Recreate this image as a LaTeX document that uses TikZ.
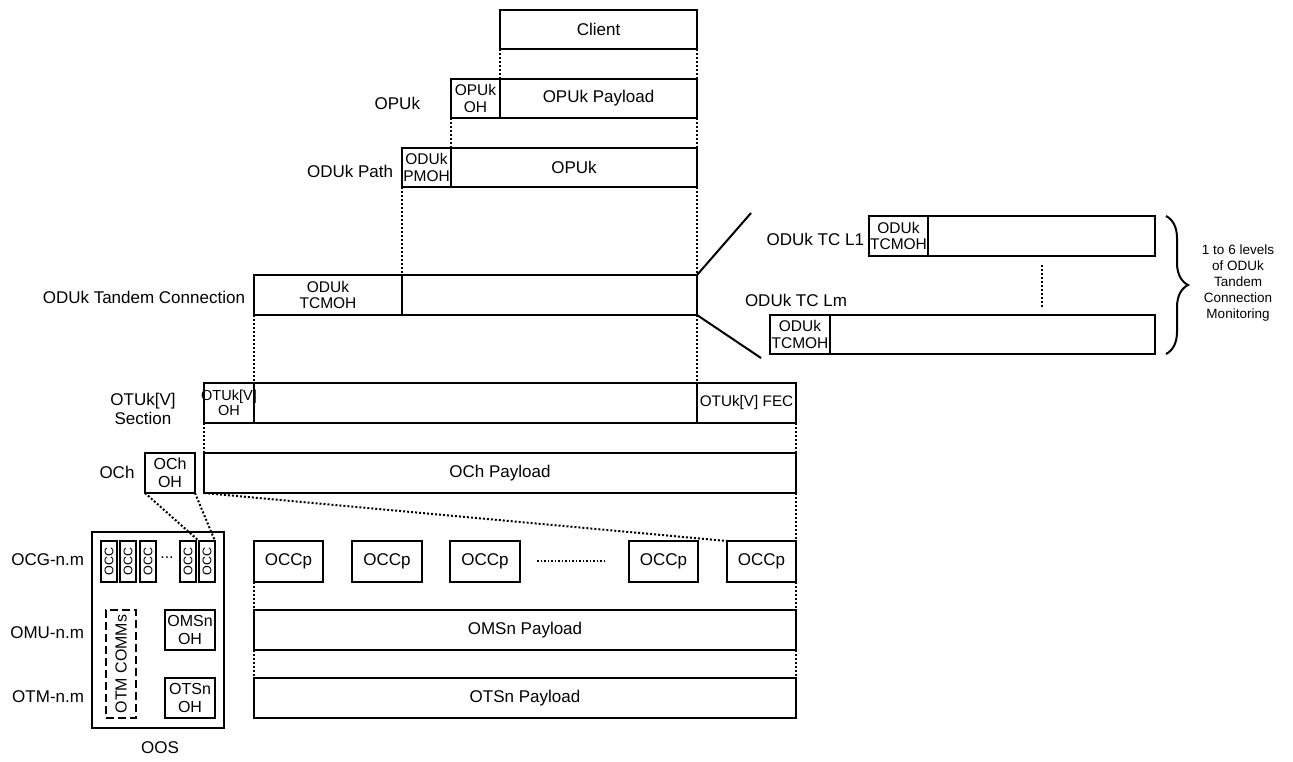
\documentclass[tikz,border=0pt]{standalone}
\usepackage{fontspec}
\setmainfont{Liberation Sans}
\usetikzlibrary{decorations.pathreplacing}
\begin{document}
\begin{tikzpicture}[x=1pt,y=-1pt,
  box/.style={draw, line width=2pt, inner sep=0pt, outer sep=0pt, anchor=north west, align=center},
  fL/.style={font=\fontsize{17}{19}\selectfont},
  fS/.style={font=\fontsize{15.5}{16.5}\selectfont},
  fM/.style={font=\fontsize{16}{18}\selectfont},
  fT/.style={font=\fontsize{12.5}{13}\selectfont},
  lbl/.style={inner sep=0pt, outer sep=0pt, align=center},
  dotl/.style={line width=2pt, dash pattern=on 2pt off 2pt},
  solidl/.style={line width=2pt}]
\fill[white] (0,0) rectangle (1293,761);
\useasboundingbox (0,0) rectangle (1293,761);

% --- top rows
\node[box,fL,minimum width=197pt,minimum height=39pt] (client) at (500,10) {Client};
\node[box,fS,minimum width=49pt,minimum height=39pt] (opuoh) at (451,79) {OPUk\\OH};
\node[box,fL,minimum width=197pt,minimum height=39pt] (opupl) at (500,79) {OPUk Payload};
\node[box,fS,minimum width=49pt,minimum height=39pt] (pmoh) at (402,148) {ODUk\\PMOH};
\node[box,fL,minimum width=246pt,minimum height=39pt] (oduopu) at (451,148) {OPUk};
\node[lbl,fL,anchor=east] (lopu) at (420,103) {OPUk};
\node[lbl,fL,anchor=east] (lpath) at (393,171) {ODUk Path};

% --- tandem connection
\node[box,fS,minimum width=148pt,minimum height=40pt] (tcmoh) at (254,275) {ODUk\\TCMOH};
\node[box,minimum width=295pt,minimum height=40pt] (tcpl) at (402,275) {};
\node[lbl,fL,anchor=east] (ltc) at (245,297) {ODUk Tandem Connection};

\node[box,fS,minimum width=59pt,minimum height=40pt] (tc1oh) at (869,216) {ODUk\\TCMOH};
\node[box,minimum width=227pt,minimum height=40pt] (tc1pl) at (928,216) {};
\node[box,fS,minimum width=60pt,minimum height=39pt] (tcmoh2) at (770,315) {ODUk\\TCMOH};
\node[box,minimum width=325pt,minimum height=39pt] (tcmpl) at (830,315) {};
\node[lbl,fL,anchor=east] (ltc1) at (864,239) {ODUk TC L1};
\node[lbl,fL,anchor=west] (ltcm) at (745,300) {ODUk TC Lm};
\coordinate (d1) at (751,213);
\coordinate (d2) at (761,358);
\coordinate (v1) at (1042,265);
\coordinate (v2) at (1042,307);
\coordinate (b1) at (1166,216);
\coordinate (b2) at (1166,354);
\draw[line width=2pt,decorate,decoration={brace,amplitude=22pt}] (b1) -- (b2);
\node[lbl,font=\fontsize{13.5}{16}\selectfont] (lbrace) at (1238,283) {1 to 6 levels\\of ODUk\\Tandem\\Connection\\Monitoring};

% --- OTUk
\node[box,minimum width=50pt,minimum height=40pt] (otuoh) at (204,383) {};
\node[lbl,font=\fontsize{14.5}{14.5}\selectfont] (otuohtxt) at (otuoh.center) {OTUk[V]\\OH};
\node[box,minimum width=443pt,minimum height=40pt] (otupl) at (254,383) {};
\node[box,font=\fontsize{15.3}{17}\selectfont,minimum width=99pt,minimum height=40pt] (otufec) at (697,383) {OTUk[V] FEC};
\node[lbl,fL] (lotu) at (143,409) {OTUk[V]\\Section};

% --- OCh
\node[box,fM,minimum width=50pt,minimum height=40pt] (ochoh) at (145,453) {OCh\\OH};
\node[box,fL,minimum width=592pt,minimum height=40pt] (ochpl) at (204,453) {OCh Payload};
\node[lbl,fL] (loch) at (117,472) {OCh};

% --- OOS
\node[box,minimum width=132pt,minimum height=196pt] (oos) at (92,532) {};
\node[lbl,fL] (loos) at (160,748) {OOS};
\node[box,fT,minimum width=16pt,minimum height=41pt] (occ1) at (101,541) {\rotatebox{90}{OCC}};
\node[box,fT,minimum width=16pt,minimum height=41pt] (occ2) at (120,541) {\rotatebox{90}{OCC}};
\node[box,fT,minimum width=16pt,minimum height=41pt] (occ3) at (140,541) {\rotatebox{90}{OCC}};
\node[box,fT,minimum width=16pt,minimum height=41pt] (occ4) at (180,541) {\rotatebox{90}{OCC}};
\node[box,fT,minimum width=16pt,minimum height=41pt] (occ5) at (199,541) {\rotatebox{90}{OCC}};
\node[lbl,fM] (occdots) at (167,558) {...};
\node[box,fM,dash pattern=on 8pt off 4pt,minimum width=30pt,minimum height=108pt] (comms) at (106,610) {\rotatebox{90}{OTM COMMs}};
\node[box,fM,minimum width=50pt,minimum height=40pt] (omsoh) at (165,610) {OMSn\\OH};
\node[box,fM,minimum width=50pt,minimum height=40pt] (otsoh) at (165,678) {OTSn\\OH};
\node[lbl,fL,anchor=east] (locg) at (84,560) {OCG-n.m};
\node[lbl,fL,anchor=east] (lomu) at (84,633) {OMU-n.m};
\node[lbl,fL,anchor=east] (lotm) at (84,697) {OTM-n.m};

% --- OCCp row and payloads
\node[box,fL,minimum width=69pt,minimum height=41pt] (occp1) at (254,541) {OCCp};
\node[box,fL,minimum width=70pt,minimum height=41pt] (occp2) at (352,541) {OCCp};
\node[box,fL,minimum width=70pt,minimum height=41pt] (occp3) at (450,541) {OCCp};
\node[box,fL,minimum width=69pt,minimum height=41pt] (occp4) at (629,541) {OCCp};
\node[box,fL,minimum width=69pt,minimum height=41pt] (occp5) at (727,541) {OCCp};
\coordinate (dd1) at (537,561);
\coordinate (dd2) at (606,561);
\draw[line width=1.5pt,dash pattern=on 1.5pt off 2pt] (dd1) -- (dd2);
\node[box,fL,minimum width=542pt,minimum height=40pt] (omspl) at (254,610) {OMSn Payload};
\node[box,fL,minimum width=542pt,minimum height=40pt] (otspl) at (254,678) {OTSn Payload};

% --- connectors
\draw[dotl] (client.south west) -- (opupl.north west);
\draw[dotl] (client.south east) -- (opupl.north east);
\draw[dotl] (opuoh.south west) -- (oduopu.north west);
\draw[dotl] (opupl.south east) -- (oduopu.north east);
\draw[dotl] (pmoh.south west) -- (tcpl.north west);
\draw[dotl] (oduopu.south east) -- (tcpl.north east);
\draw[dotl] (tcmoh.south west) -- (otupl.north west);
\draw[dotl] (tcpl.south east) -- (otufec.north west);
\draw[dotl] (otuoh.south west) -- (ochpl.north west);
\draw[dotl] (otufec.south east) -- (ochpl.north east);
\draw[dotl] (ochoh.south west) -- (occ5.north west);
\draw[dotl] (ochoh.south east) -- (occ5.north east);
\draw[dotl] (ochpl.south west) -- (occp5.north west);
\draw[dotl] (ochpl.south east) -- (occp5.north east);
\draw[dotl] (occp1.south west) -- (omspl.north west);
\draw[dotl] (occp5.south east) -- (omspl.north east);
\draw[dotl] (omspl.south west) -- (otspl.north west);
\draw[dotl] (omspl.south east) -- (otspl.north east);
\draw[solidl] (tcpl.north east) -- (d1);
\draw[solidl] (tcpl.south east) -- (d2);
\draw[dotl] (v1) -- (v2);
\end{tikzpicture}
\end{document}
